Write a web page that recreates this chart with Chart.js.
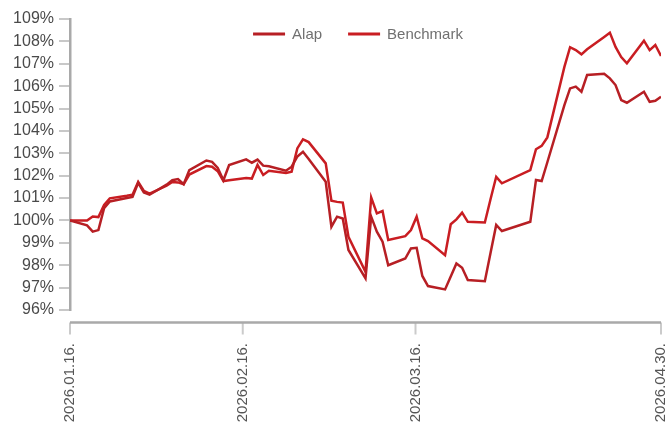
<!DOCTYPE html>
<html lang="hu">
<head>
<meta charset="utf-8">
<title>Alap és benchmark</title>
<script src="https://cdn.jsdelivr.net/npm/chart.js@4.4.1/dist/chart.umd.min.js"></script>
<style>
  html, body { margin: 0; padding: 0; background: #fff; }
  #wrap { width: 667px; height: 423px; }
</style>
</head>
<body>
<div id="wrap"><canvas id="chart"></canvas></div>
<script>
// Értékek (100% = 2026.01.16.)

const dates = [
  '2026-01-16', '2026-01-19', '2026-01-20', '2026-01-21', '2026-01-22', '2026-01-23',
  '2026-01-26', '2026-01-27', '2026-01-28', '2026-01-29', '2026-01-30',
  '2026-02-02', '2026-02-03', '2026-02-04', '2026-02-05', '2026-02-06',
  '2026-02-09', '2026-02-10', '2026-02-11', '2026-02-12', '2026-02-13',
  '2026-02-16', '2026-02-17', '2026-02-18', '2026-02-19', '2026-02-20',
  '2026-02-23', '2026-02-24', '2026-02-25', '2026-02-26', '2026-02-27',
  '2026-03-02', '2026-03-03', '2026-03-04', '2026-03-05', '2026-03-06',
  '2026-03-09', '2026-03-10', '2026-03-11', '2026-03-12', '2026-03-13',
  '2026-03-16', '2026-03-17', '2026-03-18', '2026-03-19', '2026-03-20',
  '2026-03-23', '2026-03-24', '2026-03-25', '2026-03-26', '2026-03-27',
  '2026-03-30', '2026-03-31', '2026-04-01', '2026-04-02',
  '2026-04-07', '2026-04-08', '2026-04-09', '2026-04-10',
  '2026-04-13', '2026-04-14', '2026-04-15', '2026-04-16', '2026-04-17',
  '2026-04-20', '2026-04-21', '2026-04-22', '2026-04-23', '2026-04-24',
  '2026-04-27', '2026-04-28', '2026-04-29', '2026-04-30'
];

const alap = [
  100.00, 99.78, 99.50, 99.57, 100.55, 100.85,
  101.00, 101.05, 101.68, 101.25, 101.15,
  101.60, 101.80, 101.85, 101.62, 102.25,
  102.68, 102.62, 102.35, 101.80, 102.48,
  102.73, 102.58, 102.72, 102.45, 102.42,
  102.22, 102.40, 102.85, 103.07, 102.75,
  101.73, 99.72, 100.17, 100.09, 98.68,
  97.41, 100.17, 99.50, 99.05, 98.00,
  98.30, 98.75, 98.78, 97.52, 97.07,
  96.92, 97.50, 98.08, 97.89, 97.34,
  97.29, 98.55, 99.80, 99.53,
  99.94, 101.81, 101.76, 102.60,
  105.15, 105.90, 105.98, 105.75, 106.50,
  106.55, 106.35, 106.05, 105.38, 105.26,
  105.75, 105.30, 105.35, 105.53
];

const benchmark = [
  100.00, 100.00, 100.18, 100.15, 100.69, 100.99,
  101.10, 101.15, 101.72, 101.32, 101.20,
  101.55, 101.72, 101.70, 101.62, 102.05,
  102.43, 102.40, 102.20, 101.76, 101.80,
  101.90, 101.87, 102.48, 102.03, 102.22,
  102.12, 102.18, 103.22, 103.62, 103.50,
  102.55, 100.88, 100.83, 100.80, 99.27,
  97.71, 101.03, 100.32, 100.42, 99.13,
  99.30, 99.57, 100.17, 99.20, 99.08,
  98.45, 99.83, 100.05, 100.35, 99.94,
  99.91, 100.95, 101.95, 101.66,
  102.25, 103.18, 103.33, 103.71,
  106.86, 107.74, 107.61, 107.42, 107.65,
  108.20, 108.39, 107.75, 107.30, 107.02,
  108.03, 107.61, 107.84, 107.35
];

// x tengely feliratai és helyük (napokban az első dátumtól)
const tickDays = [0, 30.4, 60.8, 104];
const tickLabels = ['2026.01.16.', '2026.02.16.', '2026.03.16.', '2026.04.30.'];

const Y_MIN = 96;
const Y_MAX = 109;

const FONT = '"Liberation Sans", Arial, Helvetica, sans-serif';
const DAY = 864e5;
const t0 = Date.parse(dates[0]);
const dayOf = d => (Date.parse(d) - t0) / DAY;
const toPoints = vals => vals.map((v, i) => ({ x: dayOf(dates[i]), y: v }));

// Az x tengely vonala kicsit a rajzterület alatt fut
const xAxisLine = {
  id: 'xAxisLine',
  afterDraw(chart) {
    const { ctx, chartArea } = chart;
    const sx = chart.scales.x;
    const y = chartArea.bottom + 12.5;
    ctx.save();
    ctx.strokeStyle = '#cbcbcb';
    ctx.lineWidth = 2;
    sx.ticks.forEach(t => {
      const px = sx.getPixelForValue(t.value);
      ctx.beginPath();
      ctx.moveTo(px, y);
      ctx.lineTo(px, y + 12);
      ctx.stroke();
    });
    ctx.strokeStyle = '#a9a9a9';
    ctx.lineWidth = 2.5;
    ctx.beginPath();
    ctx.moveTo(chartArea.left, y);
    ctx.lineTo(chartArea.right, y);
    ctx.stroke();
    ctx.restore();
  }
};

// Jelmagyarázat a rajzterületen belül, felül
const topLegend = {
  id: 'topLegend',
  afterDraw(chart) {
    const ctx = chart.ctx;
    const lineLen = 32, textGap = 7, gap = 26, centerX = 358, y = 34;
    ctx.save();
    ctx.font = `15px ${FONT}`;
    ctx.textBaseline = 'middle';
    const items = chart.data.datasets.map(ds => ({
      text: ds.label,
      color: ds.borderColor,
      w: lineLen + textGap + ctx.measureText(ds.label).width
    }));
    const total = items.reduce((s, it) => s + it.w, 0) + gap * (items.length - 1);
    let x = centerX - total / 2;
    items.forEach(it => {
      ctx.strokeStyle = it.color;
      ctx.lineWidth = 3;
      ctx.beginPath();
      ctx.moveTo(x, y);
      ctx.lineTo(x + lineLen, y);
      ctx.stroke();
      ctx.fillStyle = '#707070';
      ctx.fillText(it.text, x + lineLen + textGap, y + 1);
      x += it.w + gap;
    });
    ctx.restore();
  }
};

new Chart(document.getElementById('chart'), {
  type: 'line',
  data: {
    datasets: [
      {
        label: 'Alap',
        data: toPoints(alap),
        borderColor: '#b71f24',
        borderWidth: 2.5,
        pointRadius: 0,
        tension: 0,
        fill: false
      },
      {
        label: 'Benchmark',
        data: toPoints(benchmark),
        borderColor: '#c91d22',
        borderWidth: 2.5,
        pointRadius: 0,
        tension: 0,
        fill: false
      }
    ]
  },
  options: {
    responsive: true,
    maintainAspectRatio: false,
    animation: false,
    layout: { padding: { top: 19, right: 6, bottom: 0, left: 0 } },
    plugins: {
      legend: { display: false },
      tooltip: { enabled: false }
    },
    scales: {
      x: {
        type: 'linear',
        min: 0,
        max: dayOf(dates[dates.length - 1]),
        afterBuildTicks: s => { s.ticks = tickDays.map(v => ({ value: v })); },
        afterFit: s => { s.height = 113; s.paddingLeft = 0; s.paddingRight = 0; },
        ticks: {
          autoSkip: false,
          minRotation: 90,
          maxRotation: 90,
          padding: 33,
          color: '#555',
          font: { size: 15, family: FONT },
          callback: (v, i) => tickLabels[i]
        },
        grid: { display: false, drawTicks: false },
        border: { display: false }
      },
      y: {
        min: Y_MIN,
        max: Y_MAX,
        afterFit: s => { s.width = 70; },
        ticks: {
          stepSize: 1,
          padding: 5,
          color: '#4a4a4a',
          font: { size: 16, family: FONT },
          callback: v => v + '%'
        },
        grid: {
          drawOnChartArea: false,
          drawTicks: true,
          tickLength: 11,
          color: '#c8c8c8',
          lineWidth: 2
        },
        border: { display: true, color: '#a9a9a9', width: 2.5 }
      }
    }
  },
  plugins: [xAxisLine, topLegend]
});
</script>
</body>
</html>
